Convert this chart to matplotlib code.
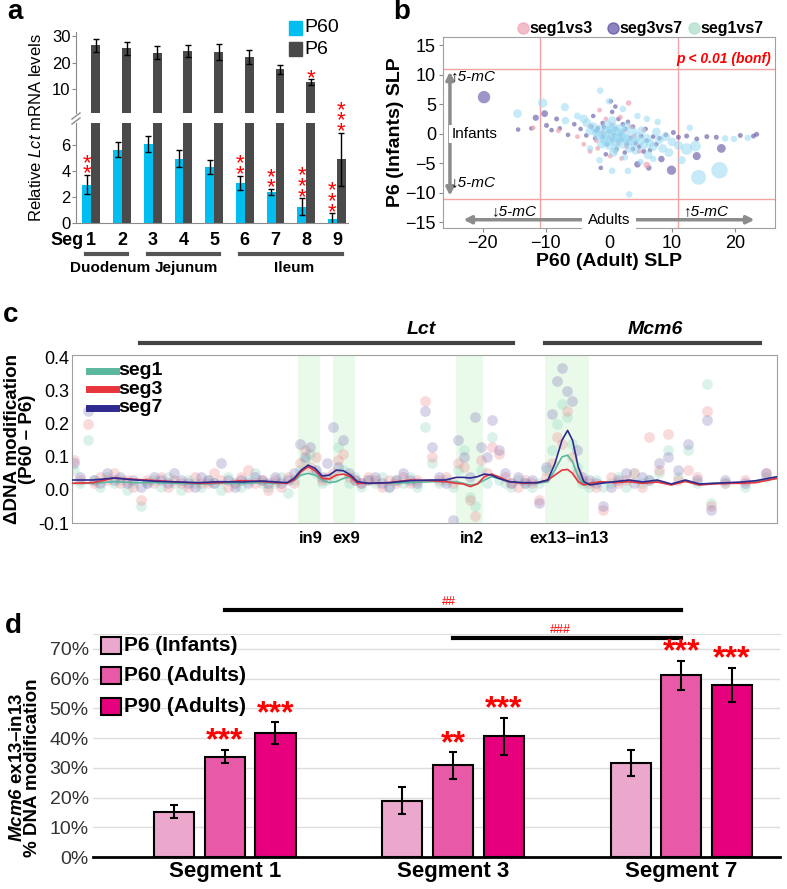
"""Four-panel figure: Lct mRNA, SLP scatter, DNA modification track and Mcm6 bars."""
import matplotlib
matplotlib.use("Agg")
import matplotlib.pyplot as plt
from matplotlib.patches import Rectangle
from matplotlib.lines import Line2D

plt.rcParams['font.family'] = ['Liberation Sans', 'DejaVu Sans']
plt.rcParams['mathtext.fontset'] = 'custom'
plt.rcParams['mathtext.rm'] = 'Liberation Sans'
plt.rcParams['mathtext.it'] = 'Liberation Sans:italic'
plt.rcParams['mathtext.bf'] = 'Liberation Sans:bold'
plt.rcParams['mathtext.bfit'] = 'Liberation Sans:italic:bold'

W, H = 787, 889

# ---------------- panel a data
segments = [1, 2, 3, 4, 5, 6, 7, 8, 9]
p60_mrna = [2.95, 5.65, 6.1, 4.95, 4.3, 3.1, 2.4, 1.25, 0.3]
p60_err = [0.75, 0.6, 0.6, 0.65, 0.55, 0.55, 0.22, 0.65, 0.45]
p6_mrna = [26.5, 25.4, 23.8, 24.3, 23.9, 22.2, 17.4, 12.6, 4.9]
p6_err = [2.4, 2.5, 2.3, 2.2, 3.0, 2.6, 1.8, 1.25, 2.05]
p60_stars = [2, 0, 0, 0, 0, 2, 2, 3, 3]
p6_stars = [0, 0, 0, 0, 0, 0, 0, 1, 3]
gut_regions = ['Duodenum', 'Jejunum', 'Ileum']
region_segs = [(1, 2), (3, 5), (6, 9)]

# ---------------- panel b data (SLP values)
s13_x = [-12, -8, -5, -3, -2, -1, 0, 0.8, 1.5, 2.2, 3.1, 2.8, 3.5, 4, 1, -0.5, 0.2, 2,
         -1.8, 4.8, 6, 5.5, -4, -1.5, 1.8, -3, 0.5, 3]
s13_y = [1.0, 0.5, -0.5, 1.3, -1.2, 0.2, -0.6, 0.7, -1.7, 0.4, 5.2, -2.2, 1.2, -0.4, -3, 2.5,
         -3.8, -4.2, -2.5, -3, -5.3, 0.6, -1.8, 4, 2.8, -3, 1.5, -1.2]
s13_size = [12] * 10 + [16] + [12] * 9 + [22] + [12] * 7

s37_x = [-19.8, -11.6, -10.2, -14.4, -12.3, -9.9, -9.1, -8.3, 0.3, 0.5, -1, 1.5, -2, -1, 0.5,
         1.8, 2.6, 3.4, -0.3, 1.2, 4.2, 5.1, -2.8, -3.6, 2.5, -4.5, 6, 7, 8, 9, 10.2, 11,
         12.3, 13.9, 15.5, 17, 20.8, 22.9, 23.4, 17.8, 13.9, 9.9, 8.3, 6.3, -1.3, 4.5, 5.5,
         -0.5, 3, -5.5, -6.5, -2.5, 1, -7.8, 3.8, 0, 1, 2,
         1.5, 2.8, -1.8, 0.8, 3.8, -0.8, 4.8, 2.2, -2.2, 5.8, 6.5, 7.5]
s37_y = [6.2, 2.7, 3.4, 0.7, 0.9, 1.4, 0.6, 2.5, 5.5, 3.7, 1.8, 2.5, 0.5, -0.5, -1, -0.2, 0.8,
         -0.7, -1.8, -2.6, -1.6, -0.4, 1.2, -0.3, -3.2, 0.8, -1.2, -0.5, -0.8, -0.2, 0.2,
         -0.6, -0.4, -0.9, -0.5, -0.6, -0.3, -0.4, -0.1, -2.5, -3.8, -6.2, -4.3, -5.8, -5.8,
         -5.2, -3, -3.5, 2, 1.6, -0.2, 3, 4.6, 0.9, 1.2, 0.4, 0.8, -1,
         -1.2, -1.8, 0.9, -0.2, -2.6, 1.1, -2.2, 1.6, -0.8, 0.8, -2.8, -1.8]
s37_size = ([80, 20, 24, 11, 11, 13, 11, 13] + [11] * 22 + [13] * 9
            + [40, 34, 45, 22, 16, 11, 22, 13] + [11] * 11 + [11] * 12)

s17_x = [0, 0.5, 1, 1.5, -0.5, -1, 2, 2.5, 0.2, 1.2, -0.8, 3, 0.8, -1.5, 1.8, -0.3, 2.2, 3.5,
         -2, 0, 4, -2.5, 1, 2.8, -1.2, 4.5, 3.2, 5, -3, 0.5, 5.5, 6, -3.5, 6.5, 7, -4, 7.5,
         8, 9, 10, 11, -5, -6.9, -7, -10.5, -14.5, -1.4, 0, 2.2, 6, 7.7, 9.5, 12.3, 13.7,
         12.8, 18.4, 19.8, 22, 3.2, 0.5, 3, 5, 7, 17.5, 14.2, 11.5, -3, -1.5, 2.5, 4.5,
         0.3, 1.6, -0.6, 2.6, 3.8, 1.1, -1.8, 4.2, 0.7, 5.2, 8.5, 6.2]
s17_y = [0, -0.5, 0.3, -0.8, 0.5, -0.3, -0.5, 0.2, -1.2, -1.5, -0.9, -0.8, 1.0, 0.8, 0.9, 1.5,
         -1.8, -1.2, 0.2, -2.0, -1.5, 1.2, -2.5, 1.3, -1.8, -0.5, -2.5, -1.2, 0.5, 2.2, -2,
         -0.8, 1.8, -1.6, -2.2, 2.5, 0.3, -1, -0.5, -1.4, -2, 3, 2.2, 4.5, 5.2, 3.4, 7.3,
         5.5, 4.2, 2.5, 2.0, -3.2, -2.6, -2.1, 1.0, -0.8, -0.9, -0.7, -10.3, -6.3, -6.3,
         -4.8, -4.3, -6.2, -7.4, -4.5, -2.5, -4.5, -4, 3,
         0.8, 0.2, -1.4, -1.0, 0.4, -0.9, -0.4, -2.8, -3.2, 0.5, -2.5, -3.6]
s17_size = ([40] * 41 + [25, 30, 35, 45, 40, 22, 22, 22, 22, 22, 40, 70, 60, 22, 22, 22, 22,
                         22, 22, 22, 22, 22, 140, 115, 35, 22, 22, 22, 22] + [40] * 12)

# ---------------- panel c data (probe positions along the locus, delta modification)
probe_x = [0.3, 1.2, 2.2, 3.1, 4.0, 5.0, 5.9, 6.8, 7.8, 8.7,
           9.8, 10.7, 11.7, 12.6, 13.6, 14.5, 15.5, 16.4, 17.4, 18.3,
           19.3, 20.2, 21.2, 22.1, 23.1, 24.0, 25.0, 25.9, 26.9, 27.8,
           28.8, 29.7, 30.6, 31.5, 32.3, 33.0, 33.8, 34.6, 35.4, 36.2,
           37.0, 37.7, 38.5, 39.3, 40.1, 41.0, 42.0, 43.0, 44.0, 45.0,
           46.0, 47.0, 48.0, 49.0, 50.0, 51.0, 52.0, 53.0, 54.0, 54.8,
           55.6, 56.4, 57.2, 58.0, 58.8, 59.6, 60.5, 61.4, 62.3, 63.3,
           64.3, 65.3, 66.3, 67.3, 68.1, 68.8, 69.5, 70.2, 70.9, 71.6,
           72.4, 73.3, 74.3, 75.3, 76.4, 77.5, 78.6, 79.7, 80.8, 81.9,
           83.2, 84.6, 86.0, 87.4, 88.6, 90.0, 90.6, 92.6, 95.5, 98.5]
seg1_dots = [0.06, 0.02, 0.15, 0.03, 0.01, 0.04, 0.02, 0.03, 0.00, 0.02,
             -0.05, 0.02, 0.03, 0.01, 0.04, 0.02, 0.00, 0.03, 0.02, 0.01,
             0.03, 0.02, 0.00, 0.04, 0.02, 0.01, 0.03, 0.05, 0.02, 0.01,
             0.02, 0.04, -0.01, 0.03, 0.06, 0.09, 0.11, 0.05, 0.02, 0.03,
             0.04, 0.13, 0.06, 0.02, 0.04, 0.01, 0.03, 0.02, 0.04, 0.01,
             0.03, 0.02, 0.04, 0.01, 0.19, 0.08, 0.02, 0.03, 0.01, 0.06,
             0.12, -0.02, -0.05, 0.06, 0.02, 0.16, 0.03, 0.02, 0.01, 0.03,
             0.02, 0.01, 0.02, 0.06, 0.12, 0.20, 0.26, 0.22, 0.14, 0.07,
             0.02, 0.01, 0.03, 0.01, 0.02, 0.04, 0.01, 0.05, 0.02, 0.03,
             0.05, 0.12, 0.04, 0.12, 0.02, 0.32, -0.04, 0.02, 0.01, 0.04]
seg3_dots = [0.09, 0.03, 0.20, 0.02, 0.04, 0.03, 0.05, 0.02, 0.03, 0.01,
             -0.03, 0.03, 0.02, 0.04, 0.01, 0.03, 0.02, 0.01, 0.04, 0.02,
             0.02, 0.05, 0.03, 0.01, 0.02, 0.04, 0.06, 0.02, 0.03, 0.00,
             0.03, 0.01, 0.04, 0.02, 0.08, 0.12, 0.07, 0.10, 0.03, 0.04,
             0.05, 0.09, 0.11, 0.04, 0.03, 0.02, 0.04, 0.03, 0.01, 0.03,
             0.02, 0.04, 0.02, 0.03, 0.27, 0.10, 0.03, 0.04, 0.02, 0.08,
             0.07, -0.03, -0.08, 0.09, 0.05, 0.13, 0.11, 0.04, 0.02, 0.01,
             0.03, 0.02, -0.03, 0.04, 0.08, 0.16, 0.14, 0.24, 0.10, 0.05,
             0.03, 0.02, 0.01, -0.06, 0.04, 0.02, 0.03, 0.05, 0.01, 0.16,
             0.06, 0.17, 0.03, 0.06, 0.04, 0.24, -0.05, 0.02, 0.03, 0.05]
seg7_dots = [0.08, 0.04, 0.24, 0.03, 0.02, 0.05, 0.03, 0.04, 0.02, 0.03,
             0.01, 0.02, 0.04, 0.03, 0.02, 0.05, 0.03, 0.02, 0.01, 0.04,
             0.03, 0.02, 0.08, 0.03, 0.01, 0.03, 0.02, 0.04, 0.03, 0.02,
             0.04, 0.02, 0.03, 0.05, 0.14, 0.10, 0.13, 0.06, 0.04, 0.08,
             0.19, 0.07, 0.15, 0.05, 0.03, 0.02, 0.03, 0.04, 0.02, 0.01,
             0.03, 0.05, 0.03, 0.02, 0.24, 0.13, 0.04, 0.02, -0.09, 0.15,
             0.10, 0.04, 0.22, 0.13, 0.10, 0.21, 0.12, 0.05, 0.02, 0.04,
             0.02, 0.03, -0.04, 0.07, 0.23, 0.33, 0.37, 0.30, 0.27, 0.12,
             0.04, 0.03, 0.02, -0.05, 0.01, 0.03, 0.05, 0.02, 0.04, 0.03,
             0.08, 0.10, 0.06, 0.14, 0.03, 0.21, -0.06, 0.03, 0.02, 0.05]
# smoothed fits
line_x = [0, 3, 6, 9, 12, 15, 18, 21, 24, 27,
          29, 30.5, 31.5, 32.5, 33.5, 34.5, 35.5, 36.5, 37.5, 38.5,
          39.5, 40.5, 42, 45, 48, 51, 53, 54.5, 55.5, 56.5,
          57.5, 58.5, 59.5, 60.5, 62, 64, 66, 67.5, 68.5, 69.5,
          70.3, 71, 71.8, 72.6, 73.5, 75, 77, 79, 81, 83,
          85, 87, 89, 91, 93, 95, 97, 100]
seg7_fit = [0.030, 0.030, 0.036, 0.030, 0.026, 0.024, 0.022, 0.025, 0.024, 0.027,
            0.024, 0.022, 0.035, 0.060, 0.075, 0.065, 0.042, 0.045, 0.060, 0.058,
            0.045, 0.025, 0.020, 0.022, 0.028, 0.030, 0.030, 0.038, 0.038, 0.036,
            0.040, 0.048, 0.045, 0.035, 0.025, 0.022, 0.022, 0.030, 0.080, 0.150,
            0.180, 0.150, 0.070, 0.025, 0.015, 0.020, 0.025, 0.030, 0.024, 0.030,
            0.018, 0.030, 0.018, 0.020, 0.022, 0.024, 0.028, 0.040]
seg3_fit = [0.020, 0.022, 0.036, 0.032, 0.028, 0.024, 0.020, 0.022, 0.028, 0.025,
            0.022, 0.020, 0.030, 0.055, 0.070, 0.058, 0.035, 0.033, 0.045, 0.048,
            0.040, 0.020, 0.020, 0.022, 0.030, 0.028, 0.025, 0.020, 0.018, 0.010,
            0.018, 0.040, 0.048, 0.040, 0.025, 0.020, 0.022, 0.030, 0.045, 0.060,
            0.062, 0.050, 0.025, 0.015, 0.020, 0.025, 0.022, 0.025, 0.020, 0.024,
            0.015, 0.026, 0.015, 0.018, 0.020, 0.020, 0.022, 0.035]
seg1_fit = [0.020, 0.020, 0.025, 0.022, 0.022, 0.020, 0.018, 0.020, 0.020, 0.022,
            0.020, 0.020, 0.028, 0.045, 0.050, 0.045, 0.030, 0.022, 0.025, 0.035,
            0.040, 0.022, 0.020, 0.020, 0.022, 0.025, 0.025, 0.025, 0.020, 0.015,
            0.018, 0.030, 0.040, 0.035, 0.025, 0.020, 0.020, 0.025, 0.060, 0.100,
            0.105, 0.085, 0.040, 0.018, 0.020, 0.022, 0.024, 0.025, 0.020, 0.025,
            0.016, 0.026, 0.016, 0.020, 0.020, 0.022, 0.025, 0.035]
regions_c = ['in9', 'ex9', 'in2', 'ex13–in13']
region_c_spans = [(32.0, 35.2), (37.0, 40.1), (54.5, 58.3), (67.1, 73.3)]
genes = ['Lct', 'Mcm6']
gene_spans = [(9.6, 62.6), (67.1, 97.6)]

# ---------------- panel d data
seg_names = ['Segment 1', 'Segment 3', 'Segment 7']
ages = ['P6 (Infants)', 'P60 (Adults)', 'P90 (Adults)']
mod_p6 = [0.153, 0.190, 0.316]
mod_p60 = [0.338, 0.308, 0.611]
mod_p90 = [0.416, 0.406, 0.578]
err_p6 = [0.021, 0.044, 0.044]
err_p60 = [0.022, 0.044, 0.049]
err_p90 = [0.037, 0.062, 0.058]
stars_p60 = ['***', '**', '***']
stars_p90 = ['***', '***', '***']


def box(x0, y0, x1, y1):
    """Pixel box (top-left origin) to a figure rectangle."""
    return [x0 / W, 1 - y1 / H, (x1 - x0) / W, (y1 - y0) / H]


def fxy(x, y):
    return x / W, 1 - y / H


fig = plt.figure(figsize=(W / 100, H / 100), dpi=100)

# ======================= panel a
CYAN, DARK, GREYAX = '#00bff0', '#4a4a4a', '#8a8a8a'
axT = fig.add_axes(box(76, 32, 348, 113))
axB = fig.add_axes(box(76, 123, 348, 223))
BREAK = 7.7
bw = 0.29
x60 = [s - bw / 2 for s in segments]
x6 = [s + bw / 2 for s in segments]
ekw = dict(ecolor='black', elinewidth=1, capsize=2, capthick=1)

top_idx = [i for i, v in enumerate(p6_mrna) if v > BREAK]
low_idx = [i for i, v in enumerate(p6_mrna) if v <= BREAK]
axT.bar([x6[i] for i in top_idx], [p6_mrna[i] for i in top_idx], bw, color=DARK)
axT.errorbar([x6[i] for i in top_idx], [p6_mrna[i] for i in top_idx],
             yerr=[p6_err[i] for i in top_idx], fmt='none', **ekw)
axB.bar(x60, p60_mrna, bw, color=CYAN)
axB.bar(x6, p6_mrna, bw, color=DARK)
axB.errorbar(x60, p60_mrna, yerr=p60_err, fmt='none', **ekw)
axB.errorbar([x6[i] for i in low_idx], [p6_mrna[i] for i in low_idx],
             yerr=[p6_err[i] for i in low_idx], fmt='none', **ekw)
axT.set_ylim(0.8, 31.6)
axB.set_ylim(0, BREAK)
axT.set_yticks([10, 20, 30])
axB.set_yticks([0, 2, 4, 6])
for ax in (axT, axB):
    ax.set_xlim(0.5, 9.36)
    ax.set_xticks([])
    for side in ('top', 'right'):
        ax.spines[side].set_visible(False)
    ax.spines['left'].set_color(GREYAX)
    ax.spines['bottom'].set_color(GREYAX)
    ax.tick_params(axis='y', length=3, color=GREYAX, labelsize=12, pad=1)
axT.spines['bottom'].set_visible(False)


def stack_stars(ax, x, top, n, first=8):
    """Red asterisks stacked one per line above an error bar (offsets in pixels)."""
    if n == 0:
        return
    # the glyph centre sits about 12.5 px above the baseline of the last line
    ax.annotate('\n'.join(['*'] * n), (x, top), xytext=(0, (first - 12.5) * 0.72),
                textcoords='offset points', ha='center', va='baseline', color='red',
                fontsize=16, linespacing=0.36, annotation_clip=False)


for i in range(len(segments)):
    stack_stars(axB, x60[i], p60_mrna[i] + p60_err[i], p60_stars[i])
    if p6_mrna[i] > BREAK:
        stack_stars(axT, x6[i], p6_mrna[i] + p6_err[i], p6_stars[i], 7)
    else:
        stack_stars(axB, x6[i], p6_mrna[i] + p6_err[i], p6_stars[i])

axB.text(0.2, -1.35, 'Seg', ha='center', va='center', fontsize=13, fontweight='bold')
for s in segments:
    axB.text(s, -1.35, str(s), ha='center', va='center', fontsize=13, fontweight='bold')
for name, (a, b) in zip(gut_regions, region_segs):
    axB.add_line(Line2D([a - 0.17, b + 0.17], [-2.35, -2.35], color='#555555', lw=3,
                        clip_on=False))
    axB.text((a + b) / 2 + 0.1, -3.45, name, ha='center', va='center', fontsize=11,
             fontweight='bold')
fig.text(*fxy(36, 128), 'Relative $\\mathit{Lct}$ mRNA levels', rotation=90, ha='center',
         va='center', fontsize=12)
# axis break marks
for y0 in (116, 121):
    fig.add_artist(Line2D([72 / W, 80 / W], [1 - (y0 + 3) / H, 1 - (y0 - 3) / H],
                          color=GREYAX, lw=1))
# legend
for lab, col, yy in (('P60', CYAN, 28), ('P6', DARK, 49)):
    fig.add_artist(Rectangle(fxy(289, yy + 7), 13 / W, 14 / H, color=col))
    fig.text(*fxy(304, yy), lab, ha='left', va='center', fontsize=14)

# ======================= panel b
PINK, PURPLE, LBLUE, MINT = '#f0a3b3', '#5d4ea3', '#97d9f3', '#a9ddc9'
axS = fig.add_axes(box(443, 37, 775, 228))
axS.scatter(s37_x, s37_y, s=s37_size, color=PURPLE, alpha=0.6, lw=0, zorder=3)
axS.scatter(s13_x, s13_y, s=s13_size, color=PINK, alpha=0.7, lw=0, zorder=3)
axS.scatter(s17_x, s17_y, s=s17_size, color=LBLUE, alpha=0.55, lw=0, zorder=3)
for v in (-11, 11):
    axS.axvline(v, color='#f4a3a3', lw=1, zorder=1)
    axS.axhline(v, color='#f4a3a3', lw=1, zorder=1)
axS.set_xlim(-26.3, 26.3)
axS.set_ylim(-16, 16.4)
axS.set_xticks([-20, -10, 0, 10, 20])
axS.set_yticks([-15, -10, -5, 0, 5, 10, 15])
axS.tick_params(length=3, color=GREYAX, labelsize=13, pad=2)
for sp in axS.spines.values():
    sp.set_color('#a0a0a0')
axS.set_xlabel('P60 (Adult) SLP', fontsize=14, fontweight='bold', labelpad=1)
axS.set_ylabel('P6 (Infants) SLP', fontsize=14, fontweight='bold', labelpad=1)
axS.text(25.6, 12.6, 'p < 0.01 (bonf)', color='red', fontsize=10, fontweight='bold',
         fontstyle='italic', ha='right', va='center')
arrow = dict(arrowstyle='<|-|>', color='#8c8c8c', lw=2.5, mutation_scale=11)
axS.annotate('', xy=(-25.2, -11), xytext=(-25.2, 11), arrowprops=arrow, zorder=4)
axS.annotate('', xy=(-23.5, -14.6), xytext=(23.5, -14.6), arrowprops=arrow, zorder=4)
axS.text(-21.3, 0, 'Infants', fontsize=11, ha='center', va='center', zorder=5,
         bbox=dict(fc='white', ec='none', pad=1.5))
axS.text(0, -14.6, 'Adults', fontsize=11, ha='center', va='center', zorder=5,
         bbox=dict(fc='white', ec='none', pad=4))
for xx, yy, s in ((-21.5, 9.7, '↑5-mC'), (-21.5, -8.3, '↓5-mC'), (-14.9, -13.2, '↓5-mC'),
                  (15.5, -13.2, '↑5-mC')):
    axS.text(xx, yy, s, fontsize=11, fontstyle='italic', ha='center', va='center', zorder=5)
for lab, col, xx in (('seg1vs3', PINK, 523), ('seg3vs7', PURPLE, 613), ('seg1vs7', MINT, 694)):
    fig.add_artist(Line2D([xx / W], [1 - 28 / H], marker='o', ms=8, color=col, alpha=0.7,
                          lw=0))
    fig.text(*fxy(xx + 6, 28), lab, fontsize=11.5, fontweight='bold', ha='left', va='center')

# ======================= panel c
C1, C3, C7 = '#5bb89f', '#e8343c', '#2e2a8f'
axC = fig.add_axes(box(72, 355, 777, 523))
for (a, b) in region_c_spans:
    axC.axvspan(a, b, color='#e9faea', lw=0, zorder=0)
axC.scatter(probe_x, seg1_dots, s=60, color='#7fd3b8', alpha=0.28, lw=0, zorder=2)
axC.scatter(probe_x, seg3_dots, s=60, color='#ef7f82', alpha=0.28, lw=0, zorder=2)
axC.scatter(probe_x, seg7_dots, s=60, color='#7569b2', alpha=0.28, lw=0, zorder=2)
axC.plot(line_x, seg1_fit, color=C1, lw=1.2, zorder=3)
axC.plot(line_x, seg3_fit, color=C3, lw=1.2, zorder=3)
axC.plot(line_x, seg7_fit, color=C7, lw=1.2, zorder=3)
axC.set_xlim(0, 100)
axC.set_ylim(-0.1, 0.408)
axC.set_xticks([])
axC.set_yticks([-0.1, 0.0, 0.1, 0.2, 0.3, 0.4])
axC.set_yticklabels(['-0.1', '0.0', '0.1', '0.2', '0.3', '0.4'])
axC.tick_params(axis='y', length=0, labelsize=13, pad=2)
for sp in axC.spines.values():
    sp.set_color('#a0a0a0')
axC.set_ylabel('ΔDNA modification\n(P60 – P6)', fontsize=13.5, fontweight='bold',
               linespacing=0.85, labelpad=2)
for lab, col, yy in (('seg1', C1, 0.905), ('seg3', C3, 0.795), ('seg7', C7, 0.685)):
    axC.add_line(Line2D([0.024, 0.062], [yy, yy], color=col, lw=5, transform=axC.transAxes))
    axC.text(0.066, yy, lab, transform=axC.transAxes, fontsize=14, fontweight='bold',
             va='center')
for lab, (a, b) in zip(regions_c, region_c_spans):
    axC.text((a + b) / 2 + 0.3, -0.09, lab, transform=axC.get_xaxis_transform(),
             ha='center', va='center', fontsize=12, fontweight='bold')
for name, (a, b) in zip(genes, gene_spans):
    axC.add_line(Line2D([a, b], [1.071, 1.071], color='#444444', lw=3,
                        transform=axC.get_xaxis_transform(), clip_on=False))
axC.text(49.6, 1.15, genes[0], transform=axC.get_xaxis_transform(), ha='center',
         va='center', fontsize=14, fontweight='bold', fontstyle='italic')
axC.text(82.7, 1.15, genes[1], transform=axC.get_xaxis_transform(), ha='center',
         va='center', fontsize=14, fontweight='bold', fontstyle='italic')

# ======================= panel d
D6, D60, D90 = '#eba8cc', '#e85aa8', '#e6007e'
axD = fig.add_axes(box(93, 634, 780, 857))
grp = range(len(seg_names))
off, bwd = 0.222, 0.176
series = ((mod_p6, err_p6, D6, -off), (mod_p60, err_p60, D60, 0), (mod_p90, err_p90, D90, off))
for vals, errs, col, o in series:
    xs = [g + o for g in grp]
    axD.bar(xs, vals, bwd, color=col, edgecolor='black', lw=1.5, zorder=3)
    axD.errorbar(xs, vals, yerr=errs, fmt='none', ecolor='black', elinewidth=1.5, capsize=3,
                 capthick=1.5, zorder=4)
for g in grp:
    axD.text(g, mod_p60[g] + err_p60[g] + 0.028, stars_p60[g], color='red', fontsize=23,
             fontweight='bold', ha='center', va='center', zorder=5)
    axD.text(g + off, mod_p90[g] + err_p90[g] + 0.028, stars_p90[g], color='red', fontsize=23,
             fontweight='bold', ha='center', va='center', zorder=5)
axD.set_xlim(-0.577, 2.432)
axD.set_ylim(0, 0.75)
axD.set_yticks([i / 10 for i in range(8)])
axD.set_yticklabels([f'{i * 10}%' for i in range(8)], fontsize=14, color='#333333')
axD.set_xticks(list(grp))
axD.set_xticklabels(seg_names, fontsize=16, fontweight='bold')
axD.tick_params(length=0, pad=3)
axD.grid(axis='y', color='#dddddd', lw=1, zorder=0)
axD.set_axisbelow(True)
for side in ('left', 'right'):
    axD.spines[side].set_visible(False)
axD.spines['top'].set_color('#dddddd')
axD.spines['bottom'].set_linewidth(2)
axD.set_ylabel('$\\mathbfit{Mcm6}$ ex13–in13\n% DNA modification', fontsize=13.5,
               fontweight='bold', linespacing=0.85)
axD.yaxis.set_label_coords(-0.075, 0.4)
# significance brackets between segments
axD.add_line(Line2D([0, 2], [0.83, 0.83], color='black', lw=3, clip_on=False))
axD.add_line(Line2D([1, 2], [0.737, 0.737], color='black', lw=3, clip_on=False))
axD.text(0.98, 0.857, '##', color='red', fontsize=9, ha='center', va='center')
axD.text(1.47, 0.763, '###', color='red', fontsize=9, ha='center', va='center')
for lab, col, yy in zip(ages, (D6, D60, D90), (0.711, 0.61, 0.506)):
    axD.add_patch(Rectangle((-0.542, yy - 0.028), 0.088, 0.056, fc=col, ec='black', lw=1.5,
                            clip_on=False, zorder=5))
    axD.text(-0.44, yy, lab, fontsize=15, fontweight='bold', va='center')

# panel letters
for letter, px, py in (('a', 15, 12), ('b', 402, 12), ('c', 11, 315), ('d', 13, 626)):
    fig.text(*fxy(px, py), letter, fontsize=20, fontweight='bold', ha='center', va='center')

fig.savefig('out.png', dpi=100)
